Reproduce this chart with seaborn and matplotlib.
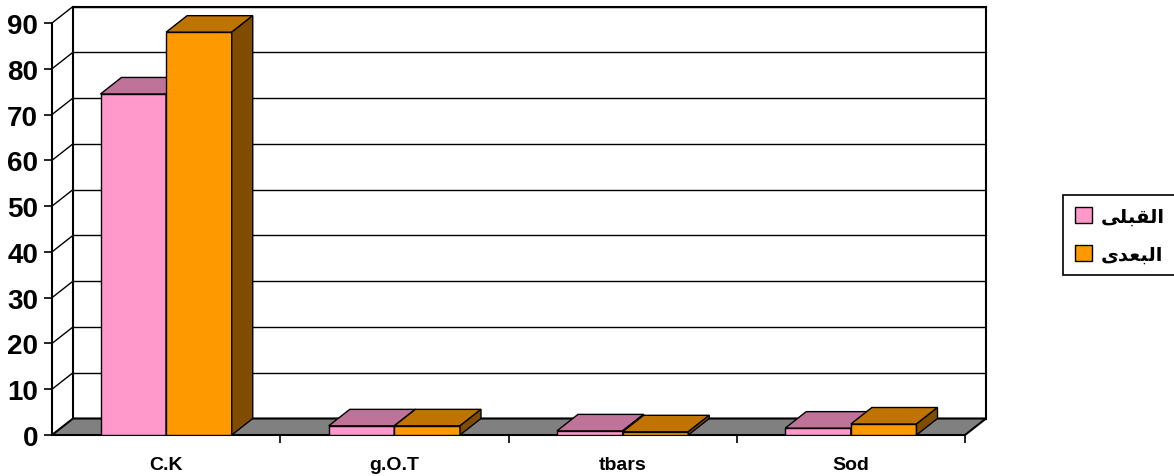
import pandas as pd
import numpy as np
import matplotlib.pyplot as plt
import seaborn as sns
from matplotlib.patches import Polygon, Patch

# Chart data
categories = ['C.K', 'g.O.T', 'tbars', 'Sod']
series = ['القبلى', 'البعدى']
values_before = [74.5, 2.0, 0.9, 1.5]
values_after = [88.0, 2.0, 0.7, 2.4]
y_ticks = list(range(0, 100, 10))
colors = ['#FF99CC', '#FF9900']

# matplotlib has no Arabic shaping, so pick the contextual forms by hand
FORMS = {
    'ا': ('\uFE8D', '\uFE8E', None, None),
    'ل': ('\uFEDD', '\uFEDE', '\uFEDF', '\uFEE0'),
    'ق': ('\uFED5', '\uFED6', '\uFED7', '\uFED8'),
    'ب': ('\uFE8F', '\uFE90', '\uFE91', '\uFE92'),
    'ع': ('\uFEC9', '\uFECA', '\uFECB', '\uFECC'),
    'د': ('\uFEA9', '\uFEAA', None, None),
    'ى': ('\uFEEF', '\uFEF0', '\uFBE8', '\uFBE9'),
}


def shape(word):
    out = []
    for i, ch in enumerate(word):
        iso, fin, ini, med = FORMS[ch]
        prev_joins = i > 0 and FORMS[word[i - 1]][2] is not None
        next_joins = i < len(word) - 1 and ini is not None
        if prev_joins and next_joins:
            out.append(med)
        elif prev_joins:
            out.append(fin)
        elif next_joins:
            out.append(ini)
        else:
            out.append(iso)
    return ''.join(reversed(out))


df = pd.DataFrame({
    'category': np.repeat(categories, 2),
    'series': series * len(categories),
    'value': [v for pair in zip(values_before, values_after) for v in pair],
})

sns.set_style('white')
plt.rcParams['font.family'] = ['Liberation Sans', 'DejaVu Sans']
plt.rcParams['font.weight'] = 'bold'
plt.rcParams['text.color'] = 'black'
plt.rcParams['xtick.color'] = 'black'
plt.rcParams['ytick.color'] = 'black'

W, H = 1174, 477
fig = plt.figure(figsize=(W / 100, H / 100), dpi=100)
ax = fig.add_axes([52 / W, (H - 436) / H, 913 / W, 412 / H])
ax.patch.set_visible(False)

sns.barplot(data=df, x='category', y='value', hue='series', hue_order=series,
            palette=colors, width=0.575, saturation=1, edgecolor='black',
            linewidth=1, errorbar=None, legend=False, ax=ax)

ax.set_xlim(-0.5, 3.5)
ax.set_ylim(0, 90)
ymax = 90

# depth offset of the 3D look, in data units
dx = 21 / 913 * 4
dy = 16.5 / (412 / 90)
x0, x1 = -0.5, 3.5

# back wall with gridlines, side wall lines
ax.add_patch(Polygon([(x0 + dx, dy), (x1 + dx, dy), (x1 + dx, ymax + dy), (x0 + dx, ymax + dy)],
                     closed=True, facecolor='white', edgecolor='black', lw=1.5,
                     clip_on=False, zorder=0.1))
for v in y_ticks[1:]:
    ax.plot([x0 + dx, x1 + dx], [v + dy, v + dy], color='black', lw=1, clip_on=False, zorder=0.2)
    ax.plot([x0, x0 + dx], [v, v + dy], color='black', lw=1, clip_on=False, zorder=0.2)

# floor
ax.add_patch(Polygon([(x0, 0), (x1, 0), (x1 + dx, dy), (x0 + dx, dy)], closed=True,
                     facecolor='#808080', edgecolor='black', lw=1.5, clip_on=False, zorder=0.3))

# top and side faces for each bar
bars = [p for p in ax.patches if isinstance(p, plt.Rectangle) and p.get_height() > 0]
bars = sorted(bars, key=lambda p: p.get_x())
for i, p in enumerate(bars):
    bx, bw, bh = p.get_x(), p.get_width(), p.get_height()
    fc = np.array(p.get_facecolor()[:3])
    z = 2 + i * 0.01
    p.set_zorder(z)
    top = Polygon([(bx, bh), (bx + bw, bh), (bx + bw + dx, bh + dy), (bx + dx, bh + dy)],
                  closed=True, facecolor=fc * 0.75, edgecolor='black', lw=1, clip_on=False, zorder=z)
    side = Polygon([(bx + bw, 0), (bx + bw + dx, dy), (bx + bw + dx, bh + dy), (bx + bw, bh)],
                   closed=True, facecolor=fc * 0.5, edgecolor='black', lw=1, clip_on=False, zorder=z)
    ax.add_patch(top)
    ax.add_patch(side)

for s in ['top', 'right', 'bottom']:
    ax.spines[s].set_visible(False)
ax.spines['left'].set_linewidth(1.5)
ax.spines['left'].set_color('black')

ax.set_yticks(y_ticks)
ax.tick_params(axis='y', length=6, width=1.2, color='black', pad=4, labelsize=20, left=True)
ax.set_xticks(range(len(categories)))
ax.set_xticklabels(categories, fontsize=14, fontweight='bold')
ax.set_xticks([0.5, 1.5, 2.5, 3.5], minor=True)
ax.tick_params(axis='x', which='major', length=0, pad=15)
ax.tick_params(axis='x', which='minor', length=6, width=1.2, color='black', bottom=True)
ax.set_xlabel('')
ax.set_ylabel('')

handles = [Patch(facecolor=c, edgecolor='black', lw=1) for c in colors]
leg = fig.legend(handles, [shape(s) for s in series], loc='upper left',
                 bbox_to_anchor=(1063 / W, 1 - 196 / H), borderaxespad=0,
                 frameon=True, fancybox=False, edgecolor='black', framealpha=1,
                 prop={'size': 14, 'weight': 'bold'},
                 handlelength=0.9, handleheight=0.9, handletextpad=0.45, labelspacing=1.0,
                 borderpad=0.6)
leg.get_frame().set_linewidth(1.2)

fig.savefig('out.png', dpi=100)
